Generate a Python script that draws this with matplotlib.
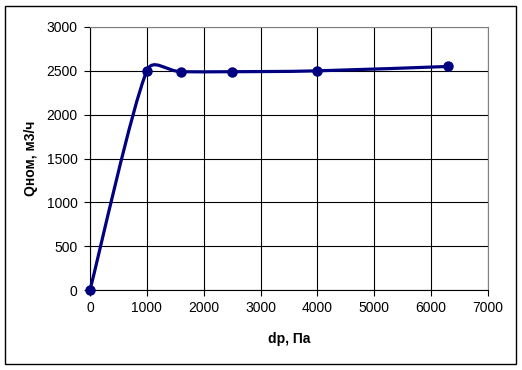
import numpy as np
import matplotlib
matplotlib.use("Agg")
import matplotlib.pyplot as plt
from matplotlib.path import Path
from matplotlib.patches import PathPatch, Rectangle

# data
dp = [0, 1000, 1600, 2500, 4000, 6300]
q = [0, 2500, 2490, 2490, 2500, 2550]
xticks = [0, 1000, 2000, 3000, 4000, 5000, 6000, 7000]
yticks = [0, 500, 1000, 1500, 2000, 2500, 3000]

plt.rcParams['font.family'] = ['Liberation Sans', 'DejaVu Sans']
line_color = '#000080'

fig = plt.figure(figsize=(5.22, 3.70), dpi=100)
ax = fig.add_axes([90/522, 80/370, 398/522, 263/370])
ax.set_xlim(0, 7000)
ax.set_ylim(0, 3000)
ax.set_xticks(xticks)
ax.set_yticks(yticks)
ax.grid(True, color='black', linewidth=0.8)
ax.set_axisbelow(True)
ax.tick_params(direction='out', length=4, width=0.8, labelsize=10, pad=4, color='black')
ax.tick_params(axis='y', pad=5)
for s in ['top', 'right']:
    ax.spines[s].set_color('#808080')
for s in ['left', 'bottom']:
    ax.spines[s].set_color('black')
ax.set_xlabel('dp, Па', fontsize=10, fontweight='bold', labelpad=12)
ax.set_ylabel('Qном, м3/ч', fontsize=10, fontweight='bold', labelpad=6)

# smoothed line (Excel style bezier), control points computed in screen space
fig.canvas.draw()
pts = ax.transData.transform(np.column_stack([dp, q]))
n = len(pts)

tang = []
for i in range(n):
    a = pts[i - 1] if i > 0 else pts[i]
    b = pts[i + 1] if i + 1 < n else pts[i]
    tang.append((b - a) / 6.0)


def limit(v, seg):
    L = np.hypot(*v)
    cap = 0.45 * seg
    return v * (cap / L) if L > cap else v


verts = [pts[0]]
codes = [Path.MOVETO]
for i in range(n - 1):
    p1 = pts[i]
    p2 = pts[i + 1]
    seg = np.hypot(*(p2 - p1))
    c1 = p1 + limit(tang[i], seg)
    c2 = p2 - limit(tang[i + 1], seg)
    verts += [c1, c2, p2]
    codes += [Path.CURVE4] * 3
data_verts = ax.transData.inverted().transform(np.array(verts))
ax.add_patch(PathPatch(Path(data_verts, codes), facecolor='none',
                       edgecolor=line_color, linewidth=2.3, clip_on=False, zorder=3))
ax.plot(dp, q, linestyle='none', marker='o', markersize=6.5, color=line_color,
        clip_on=False, zorder=4)

fig.patches.append(Rectangle((5/522, 6/370), 511/522, 358/370, transform=fig.transFigure,
                             fill=False, edgecolor='black', linewidth=1))

fig.savefig('out.png', dpi=100)
